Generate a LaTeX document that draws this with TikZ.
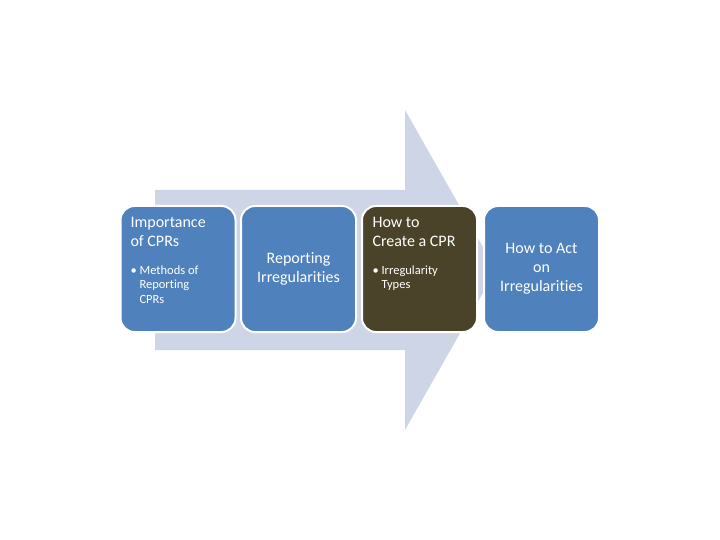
\documentclass[tikz,border=0pt]{standalone}
\usepackage{fontspec}
\setmainfont[Ligatures={NoCommon,NoRequired,NoContextual}]{Carlito}
\begin{document}
\begin{tikzpicture}[x=1pt,y=-1pt]
\definecolor{arr}{HTML}{CDD5E6}
\definecolor{bl}{HTML}{4F81BD}
\definecolor{dk}{HTML}{4A4229}
\tikzset{card/.style={draw=white,line width=2pt,rounded corners=14pt,minimum width=115pt,minimum height=126pt,inner sep=0pt,text=white},
 ttl/.style={font=\fontsize{16}{19}\selectfont,text=white,align=left,anchor=north west},
 sub/.style={font=\fontsize{12.5}{14.5}\selectfont,text=white,align=left,anchor=north west}}
\useasboundingbox (0,0) rectangle (720,540);
\fill[arr] (155,190) -- (405,190) -- (405,110) -- (496,270) -- (405,430) -- (405,350) -- (155,350) -- cycle;
\node[card,fill=bl] (b1) at (178,269) {};
\node[card,fill=bl] (b2) at (298.5,269) {};
\node[card,fill=dk] (b3) at (419.5,269) {};
\node[card,fill=bl] (b4) at (541.5,269) {};
\node[ttl] (t1) at (127,214) {Importance\\of CPRs};
\node[sub] (s1) at (127,262) {\textbullet{} Methods of\\\hspace*{9pt}Reporting\\\hspace*{9pt}CPRs};
\node[font=\fontsize{16}{19}\selectfont,text=white,align=center] (t2) at (b2) {Reporting\\Irregularities};
\node[ttl] (t3) at (369,214) {How to\\Create a CPR};
\node[sub] (s3) at (369,262) {\textbullet{} Irregularity\\\hspace*{9pt}Types};
\node[font=\fontsize{16}{19}\selectfont,text=white,align=center] (t4) at (b4) {How to Act\\on\\Irregularities};
\end{tikzpicture}
\end{document}
